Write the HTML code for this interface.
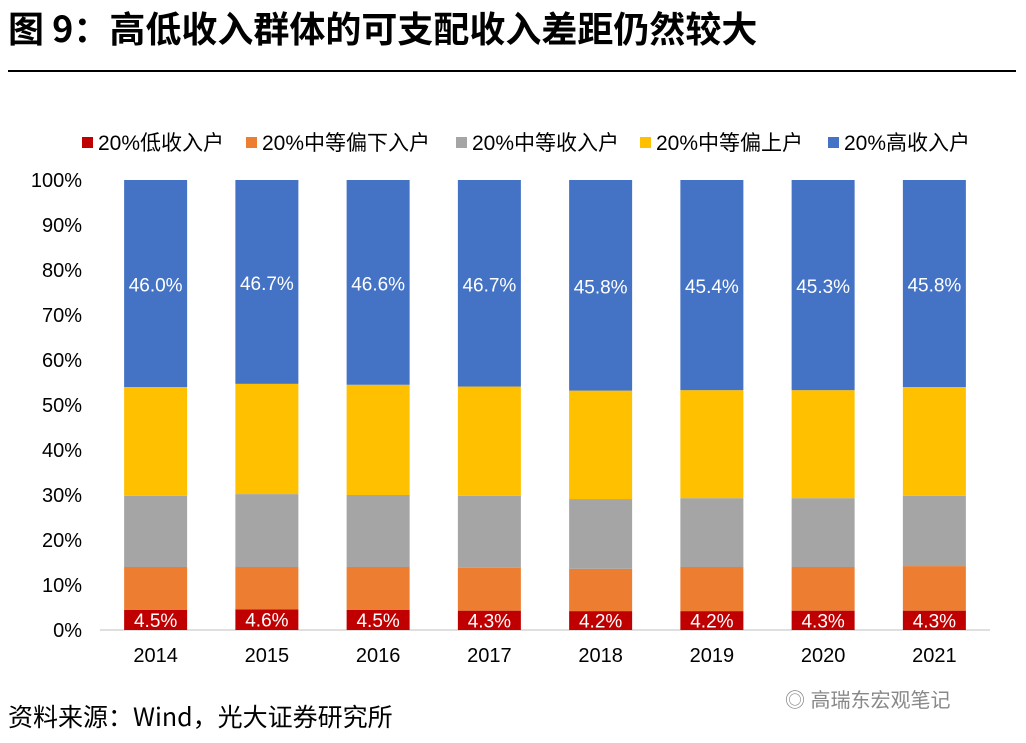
<!DOCTYPE html>
<html><head><meta charset="utf-8"><style>
body{margin:0;width:1026px;height:743px;background:#fff;overflow:hidden;font-family:"Liberation Sans","Noto Sans CJK SC",sans-serif;}
#title{position:absolute;left:8px;top:1px;font-size:36px;font-weight:bold;color:#000;font-family:"Noto Sans CJK SC",sans-serif;line-height:52px}
#rule{position:absolute;left:8px;top:70px;width:1008px;height:2px;background:#000}
#src{position:absolute;left:8px;top:698px;font-size:25px;color:#000;font-family:"Noto Sans CJK SC",sans-serif;line-height:36px}
#wm{position:absolute;left:785px;top:684px;font-size:20px;color:#888}
</style></head><body>
<div id="title">图 9：高低收入群体的可支配收入差距仍然较大</div>
<div id="rule"></div>
<svg id="chart" width="1026" height="743" style="position:absolute;left:0;top:0"></svg>
<div id="src">资料来源：Wind，光大证券研究所</div>
<div id="wm">◎ 高瑞东宏观笔记</div>
<script>
const years=["2014","2015","2016","2017","2018","2019","2020","2021"];
const low=[4.5,4.6,4.5,4.3,4.2,4.2,4.3,4.3];
const lowMid=[9.5,9.4,9.5,9.5,9.4,9.8,9.7,9.9];
const mid=[15.8,16.2,16.0,16.0,15.5,15.3,15.3,15.6];
const upMid=[24.2,24.5,24.5,24.3,24.1,24.0,24.0,24.2];
const high=[46.0,46.7,46.6,46.7,45.8,45.4,45.3,45.8];
const seriesNames=["20%低收入户","20%中等偏下入户","20%中等收入户","20%中等偏上户","20%高收入户"];
const colors=["#C00000","#ED7D31","#A5A5A5","#FFC000","#4472C4"];
const yTicks=[0,10,20,30,40,50,60,70,80,90,100];
const NS="http://www.w3.org/2000/svg";
const svg=document.getElementById('chart');
const x0=100,x1=990,y0=630,y1=180;
const band=(x1-x0)/years.length, bw=63;
const yS=v=>y0-(v/100)*(y0-y1);
const xC=i=>x0+band*(i+0.5);
function mk(t,a){const e=document.createElementNS(NS,t);for(const k in a)e.setAttribute(k,a[k]);svg.appendChild(e);return e;}
yTicks.forEach(t=>{const e=mk('text',{x:82,y:yS(t)+7,'text-anchor':'end','font-size':20,fill:'#000'});e.textContent=t+'%';

});
const ax=mk('line',{x1:x0,y1:y0,x2:x1,y2:y0,stroke:'#bfbfbf','stroke-width':1});


const lower=[low,lowMid,mid,upMid];
years.forEach((yr,i)=>{
 let acc=0;
 lower.forEach((s,k)=>{
  const r=mk('rect',{x:xC(i)-bw/2,y:yS(acc+s[i]),width:bw,height:yS(acc)-yS(acc+s[i]),fill:colors[k]});
  
  
  acc+=s[i];
 });
 const r=mk('rect',{x:xC(i)-bw/2,y:yS(100),width:bw,height:yS(acc)-yS(100),fill:colors[4]});
 
 
 const l=mk('text',{x:xC(i),y:yS(low[i]/2)+7,'text-anchor':'middle','font-size':19,fill:'#fff'});l.textContent=low[i].toFixed(1)+'%';
 
 
 const h=mk('text',{x:xC(i),y:yS((acc+100)/2)+8,'text-anchor':'middle','font-size':19,fill:'#fff'});h.textContent=high[i].toFixed(1)+'%';
 
 
 const xl=mk('text',{x:xC(i),y:662,'text-anchor':'middle','font-size':20,fill:'#000'});xl.textContent=yr;
 
 
});
const legX=[82,246,456,640,828];
seriesNames.forEach((n,k)=>{
 const r=mk('rect',{x:legX[k],y:137,width:11,height:11,fill:colors[k]});
 
 
 const t=mk('text',{x:legX[k]+16,y:150,'font-size':21,fill:'#000'});t.textContent=n;
 
 
});
</script>
</body></html>
